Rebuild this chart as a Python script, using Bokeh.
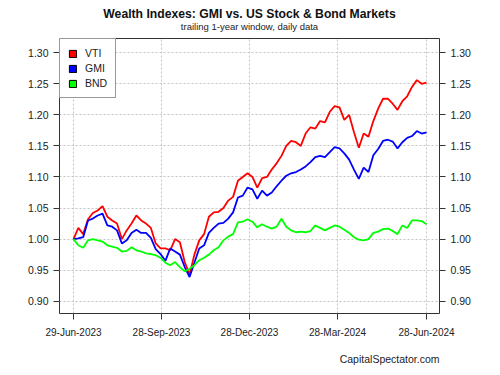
import pandas as pd
from bokeh.plotting import figure
from bokeh.models import (Range1d, FixedTicker, LinearAxis, DatetimeTickFormatter,
                          NumeralTickFormatter, Legend, LegendItem, Title, ColumnDataSource)
from bokeh.embed import file_html
from bokeh.resources import INLINE

# ---------------- data ----------------
dates = [
    "2023-06-29", "2023-07-04", "2023-07-09", "2023-07-14", "2023-07-19", "2023-07-24",
    "2023-07-29", "2023-08-03", "2023-08-08", "2023-08-13", "2023-08-18", "2023-08-23",
    "2023-08-28", "2023-09-02", "2023-09-07", "2023-09-12", "2023-09-17", "2023-09-22",
    "2023-09-27", "2023-10-02", "2023-10-07", "2023-10-12", "2023-10-17", "2023-10-22",
    "2023-10-27", "2023-11-01", "2023-11-06", "2023-11-11", "2023-11-16", "2023-11-21",
    "2023-11-26", "2023-12-01", "2023-12-06", "2023-12-11", "2023-12-16", "2023-12-21",
    "2023-12-26", "2023-12-31", "2024-01-05", "2024-01-10", "2024-01-15", "2024-01-20",
    "2024-01-25", "2024-01-30", "2024-02-04", "2024-02-09", "2024-02-14", "2024-02-19",
    "2024-02-24", "2024-02-29", "2024-03-05", "2024-03-10", "2024-03-15", "2024-03-20",
    "2024-03-25", "2024-03-30", "2024-04-04", "2024-04-09", "2024-04-14", "2024-04-19",
    "2024-04-24", "2024-04-29", "2024-05-04", "2024-05-09", "2024-05-14", "2024-05-19",
    "2024-05-24", "2024-05-29", "2024-06-03", "2024-06-08", "2024-06-13", "2024-06-18",
    "2024-06-23", "2024-06-28",
]

vti = [
    1.000, 1.018, 1.008, 1.032, 1.042, 1.046, 1.053, 1.036, 1.030, 1.025, 1.000, 1.014,
    1.025, 1.038, 1.030, 1.025, 1.018, 0.993, 0.985, 0.985, 0.982, 1.000, 0.995, 0.963,
    0.943, 0.975, 0.998, 1.008, 1.036, 1.043, 1.044, 1.050, 1.062, 1.068, 1.094, 1.100,
    1.106, 1.100, 1.083, 1.098, 1.100, 1.112, 1.122, 1.134, 1.150, 1.158, 1.156, 1.150,
    1.170, 1.180, 1.178, 1.190, 1.188, 1.205, 1.214, 1.212, 1.192, 1.200, 1.172, 1.147,
    1.170, 1.165, 1.190, 1.210, 1.226, 1.226, 1.218, 1.208, 1.222, 1.230, 1.245, 1.256,
    1.250, 1.252,
]

gmi = [
    1.000, 1.001, 1.003, 1.030, 1.033, 1.038, 1.041, 1.022, 1.020, 1.014, 0.993, 0.998,
    1.010, 1.015, 1.010, 1.010, 1.002, 0.984, 0.976, 0.965, 0.985, 0.980, 0.975, 0.955,
    0.939, 0.962, 0.985, 0.990, 1.010, 1.018, 1.025, 1.026, 1.033, 1.043, 1.067, 1.070,
    1.083, 1.080, 1.065, 1.078, 1.070, 1.075, 1.085, 1.094, 1.102, 1.106, 1.108, 1.112,
    1.117, 1.124, 1.132, 1.134, 1.132, 1.140, 1.148, 1.146, 1.138, 1.128, 1.112, 1.097,
    1.115, 1.108, 1.135, 1.145, 1.158, 1.160, 1.157, 1.146, 1.156, 1.163, 1.166, 1.174,
    1.170, 1.172,
]

bnd = [
    1.000, 0.990, 0.986, 0.998, 1.000, 0.998, 0.996, 0.990, 0.988, 0.986, 0.980, 0.981,
    0.987, 0.982, 0.980, 0.977, 0.976, 0.974, 0.970, 0.962, 0.958, 0.963, 0.955, 0.948,
    0.952, 0.958, 0.966, 0.970, 0.975, 0.982, 0.987, 0.998, 1.004, 1.008, 1.027, 1.028,
    1.032, 1.028, 1.019, 1.024, 1.020, 1.017, 1.020, 1.033, 1.020, 1.014, 1.011, 1.012,
    1.011, 1.013, 1.022, 1.018, 1.014, 1.018, 1.022, 1.020, 1.015, 1.010, 1.003, 0.999,
    0.998, 1.000, 1.010, 1.012, 1.016, 1.017, 1.013, 1.008, 1.022, 1.018, 1.030, 1.030,
    1.029, 1.024,
]

series_names = ["VTI", "GMI", "BND"]
series_colors = ["#ff0000", "#0000ff", "#00ff00"]

x_tick_dates = ["2023-06-29", "2023-09-28", "2023-12-28", "2024-03-28", "2024-06-28"]
y_ticks = [0.90, 0.95, 1.00, 1.05, 1.10, 1.15, 1.20, 1.25, 1.30]

title_text = "Wealth Indexes: GMI vs. US Stock & Bond Markets"
subtitle_text = "trailing 1-year window, daily data"
footer_text = "CapitalSpectator.com"

# ---------------- figure ----------------
x = pd.to_datetime(dates)
x_start = pd.Timestamp("2023-06-14 12:30")
x_end = pd.Timestamp("2024-07-11 10:00")
xs_ms = x_start.value / 1e6
xe_ms = x_end.value / 1e6
y_lo, y_hi = 0.8802, 1.3230

FONT = "Liberation Sans"

p = figure(width=500, height=375, x_axis_type="datetime", title=None,
           x_range=Range1d(xs_ms, xe_ms), y_range=Range1d(y_lo, y_hi),
           output_backend="svg", toolbar_location=None,
           min_border_left=59, min_border_right=61, min_border_top=38, min_border_bottom=62)
p.background_fill_color = "white"
p.border_fill_color = "white"
p.outline_line_color = "#333333"
p.outline_line_width = 1

# axes
xticks_ms = [pd.Timestamp(d).value / 1e6 for d in x_tick_dates]
p.xaxis.ticker = FixedTicker(ticks=xticks_ms)
fmt = "%d-%b-%Y"
p.xaxis.formatter = DatetimeTickFormatter(days=fmt, months=fmt, years=fmt, hours=fmt)
p.yaxis.ticker = FixedTicker(ticks=y_ticks)
p.yaxis.formatter = NumeralTickFormatter(format="0.00")

right_axis = LinearAxis(ticker=FixedTicker(ticks=y_ticks), formatter=NumeralTickFormatter(format="0.00"))
p.add_layout(right_axis, "right")

for ax in [p.xaxis[0], p.yaxis[0], right_axis]:
    ax.axis_line_color = None
    ax.major_tick_line_color = "#333333"
    ax.major_tick_out = 6
    ax.major_tick_in = 0
    ax.minor_tick_line_color = None
    ax.major_label_text_font = FONT
    ax.major_label_text_font_size = "10.5px"
    ax.major_label_text_color = "#222222"
    ax.major_label_standoff = 5

p.xaxis.major_label_text_font_size = "10px"
p.xaxis.major_label_standoff = 7

# grid
p.xgrid.ticker = FixedTicker(ticks=xticks_ms)
p.ygrid.ticker = FixedTicker(ticks=y_ticks)
for g in [p.xgrid[0], p.ygrid[0]]:
    g.grid_line_color = "#c4c4c4"
    g.grid_line_dash = "2 2"
    g.grid_line_width = 1

# lines
for vals, col in zip([vti, gmi, bnd], series_colors):
    p.line(x, vals, line_color=col, line_width=1.8)

# legend with square swatches (swatch glyphs carry no visible data)
nan = float("nan")
items = []
for name, col in zip(series_names, series_colors):
    src = ColumnDataSource(dict(l=[nan], r=[nan], t=[nan], b=[nan]))
    rq = p.quad(left="l", right="r", top="t", bottom="b", source=src,
                fill_color=col, line_color="black", line_width=1)
    items.append(LegendItem(label=name, renderers=[rq]))
legend = Legend(items=items, location="top_left", margin=0, padding=8, spacing=3,
                glyph_width=9, glyph_height=9, label_height=9, label_standoff=8,
                label_text_font=FONT, label_text_font_size="10.5px", label_text_color="#222222",
                border_line_color="#333333", border_line_width=1, background_fill_alpha=1.0)
p.add_layout(legend, "center")

# titles (subtitle first so it sits next to the frame)
p.add_layout(Title(text=subtitle_text, align="center", text_font=FONT,
                   text_font_size="9.5px", text_font_style="normal", text_color="#222222",
                   standoff=13), "above")
p.add_layout(Title(text=title_text, align="center", text_font=FONT,
                   text_font_size="12.2px", text_font_style="bold", text_color="#111111",
                   standoff=-16), "above")

# footer, right-aligned with the plot box
p.add_layout(Title(text=footer_text, align="right", text_font=FONT,
                   text_font_size="10.5px", text_font_style="normal", text_color="#222222",
                   standoff=20), "below")

open("out.html", "w").write(file_html(p, INLINE))
